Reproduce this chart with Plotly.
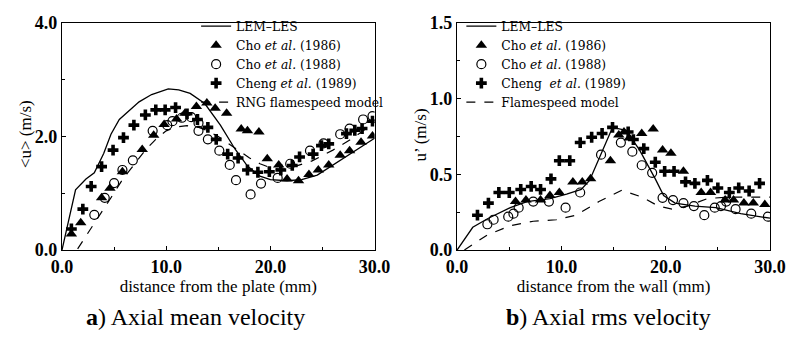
import plotly.graph_objects as go

# ---------------- (a) axial mean velocity ----------------
lem_a_x = [0, 1.3, 2.3, 3.1, 4.0, 4.7, 5.5, 6.5, 7.4, 8.6, 10.2, 11.2, 12.3, 13.7, 15.2, 16.6, 17.8, 19.0, 20.0, 21.6, 23.0, 24.5, 26.0, 27.5, 29.0, 30.0]
lem_a_y = [0, 1.06, 1.25, 1.36, 1.70, 2.04, 2.30, 2.47, 2.61, 2.74, 2.84, 2.82, 2.76, 2.58, 2.20, 1.78, 1.48, 1.30, 1.24, 1.22, 1.24, 1.32, 1.50, 1.67, 1.85, 1.97]

rng_x = [1.5, 2.5, 3.6, 4.7, 5.8, 7.0, 8.0, 9.0, 10.0, 11.0, 12.0, 13.0, 14.0, 15.0, 16.0, 17.0, 18.0, 19.0, 20.0, 21.0, 22.0, 24.0, 26.0, 28.0, 30.0]
rng_y = [0.02, 0.30, 0.60, 0.92, 1.24, 1.52, 1.76, 1.95, 2.10, 2.17, 2.19, 2.17, 2.10, 2.00, 1.87, 1.75, 1.62, 1.52, 1.45, 1.42, 1.45, 1.57, 1.76, 1.98, 2.25]

cho86_a_x = [0.9, 1.8, 3.8, 4.6, 5.8, 7.7, 8.8, 9.8, 11.0, 11.8, 12.9, 13.9, 14.7, 15.8, 17.2, 17.8, 18.9, 19.7, 20.8, 21.6, 22.7, 23.7, 24.6, 25.6, 26.7, 27.6, 28.7, 29.8]
cho86_a_y = [0.28, 0.48, 0.92, 1.09, 1.38, 1.77, 2.02, 2.21, 2.31, 2.41, 2.53, 2.59, 2.50, 2.41, 2.13, 2.10, 2.08, 1.61, 1.50, 1.25, 1.22, 1.33, 1.41, 1.50, 1.67, 1.75, 1.90, 2.01]

cho88_a_x = [3.1, 4.1, 5.0, 5.8, 6.8, 8.7, 10.1, 10.6, 11.5, 12.4, 13.1, 13.1, 14.0, 15.1, 16.1, 16.7, 18.1, 19.1, 20.7, 21.9, 23.8, 25.1, 26.7, 27.6, 28.9, 29.8]
cho88_a_y = [0.62, 0.92, 1.18, 1.41, 1.58, 2.10, 2.20, 2.27, 2.33, 2.34, 2.24, 2.10, 1.95, 1.75, 1.50, 1.23, 0.98, 1.17, 1.27, 1.52, 1.75, 1.88, 2.04, 2.14, 2.30, 2.36]

cheng_a_x = [0.9, 2.0, 2.8, 3.8, 4.9, 5.9, 6.9, 8.0, 9.0, 9.9, 10.9, 12.0, 13.0, 14.0, 14.8, 15.9, 16.9, 17.8, 18.8, 19.9, 21.0, 22.1, 22.8, 24.1, 24.9, 25.6, 27.3, 28.1, 28.8, 29.8]
cheng_a_y = [0.37, 0.72, 1.12, 1.47, 1.76, 1.98, 2.20, 2.38, 2.47, 2.47, 2.51, 2.40, 2.30, 2.16, 1.95, 1.69, 1.62, 1.41, 1.37, 1.38, 1.41, 1.49, 1.64, 1.69, 1.84, 1.87, 2.05, 2.11, 2.14, 2.27]

# ---------------- (b) axial rms velocity ----------------
lem_b_x = [0, 1.5, 3.0, 5.1, 6.7, 8.9, 10.5, 11.9, 12.7, 13.8, 14.9, 16.2, 17.5, 19.0, 19.8, 20.9, 22.8, 24.8, 27.2, 30.0]
lem_b_y = [0, 0.15, 0.21, 0.28, 0.32, 0.34, 0.37, 0.40, 0.46, 0.63, 0.81, 0.79, 0.66, 0.47, 0.36, 0.31, 0.29, 0.28, 0.24, 0.21]

fs_x = [0.7, 2.9, 5.1, 7.3, 9.5, 11.4, 13.6, 15.8, 17.7, 19.3, 20.6, 22.1, 24.0, 26.0, 28.0, 30.0]
fs_y = [0.0, 0.10, 0.16, 0.19, 0.20, 0.23, 0.32, 0.395, 0.35, 0.29, 0.27, 0.29, 0.34, 0.35, 0.35, 0.35]

cho86_b_x = [5.6, 6.6, 8.0, 8.9, 9.8, 11.1, 12.0, 12.8, 14.7, 15.5, 16.0, 16.5, 17.7, 18.8, 19.7, 20.5, 21.7, 23.4, 24.3, 25.7, 26.5, 27.5, 28.4, 29.5]
cho86_b_y = [0.32, 0.33, 0.33, 0.36, 0.38, 0.45, 0.45, 0.47, 0.59, 0.76, 0.78, 0.74, 0.77, 0.80, 0.66, 0.64, 0.52, 0.38, 0.38, 0.33, 0.33, 0.31, 0.31, 0.30]

cho88_b_x = [2.9, 3.5, 4.9, 5.4, 5.9, 7.3, 8.8, 10.4, 11.8, 13.8, 15.7, 16.8, 17.7, 18.7, 19.7, 20.7, 21.7, 22.7, 23.7, 24.7, 25.3, 25.8, 26.7, 28.2, 29.8]
cho88_b_y = [0.17, 0.20, 0.22, 0.24, 0.28, 0.32, 0.32, 0.28, 0.38, 0.63, 0.71, 0.65, 0.56, 0.51, 0.345, 0.33, 0.31, 0.29, 0.23, 0.28, 0.29, 0.32, 0.27, 0.24, 0.22]

cheng_b_x = [1.95, 3.0, 4.0, 5.0, 6.1, 7.1, 8.0, 9.0, 9.8, 10.8, 11.8, 12.9, 13.9, 14.9, 16.4, 16.9, 17.9, 19.0, 19.9, 20.8, 21.9, 22.8, 24.0, 25.0, 26.1, 27.0, 28.0, 29.0]
cheng_b_y = [0.23, 0.31, 0.38, 0.38, 0.40, 0.42, 0.40, 0.47, 0.59, 0.59, 0.71, 0.745, 0.77, 0.81, 0.78, 0.73, 0.67, 0.58, 0.52, 0.52, 0.45, 0.44, 0.46, 0.41, 0.38, 0.41, 0.39, 0.44]

x_ticks = [0, 10, 20, 30]
x_ticklabels = ["0.0", "10.0", "20.0", "30.0"]
ya_ticks = [0, 2, 4]
ya_ticklabels = ["0.0", "2.0", "4.0"]
yb_ticks = [0, 0.5, 1.0, 1.5]
yb_ticklabels = ["0.0", "0.5", "1.0", "1.5"]

SERIF = "Liberation Serif"
LEGFONT = "DejaVu Serif"
BLACK = "black"

fig = go.Figure()

def add_set(xa, ya, legend, lem, lemname, model, modelname, modeldash,
            c86, c88, chg, chengname):
    fig.add_trace(go.Scatter(x=lem[0], y=lem[1], mode="lines", name=lemname,
                             line=dict(color=BLACK, width=1.3), xaxis=xa, yaxis=ya, legend=legend))
    fig.add_trace(go.Scatter(x=c86[0], y=c86[1], mode="markers", name="Cho <i>et al.</i> (1986)",
                             marker=dict(symbol="triangle-up", size=10, color=BLACK),
                             xaxis=xa, yaxis=ya, legend=legend))
    fig.add_trace(go.Scatter(x=c88[0], y=c88[1], mode="markers", name="Cho <i>et al.</i> (1988)",
                             marker=dict(symbol="circle-open", size=9, color=BLACK, line=dict(width=1.2)),
                             xaxis=xa, yaxis=ya, legend=legend))
    fig.add_trace(go.Scatter(x=chg[0], y=chg[1], mode="markers", name=chengname,
                             marker=dict(symbol="cross", size=9, color=BLACK),
                             xaxis=xa, yaxis=ya, legend=legend))
    fig.add_trace(go.Scatter(x=model[0], y=model[1], mode="lines", name=modelname,
                             line=dict(color=BLACK, width=1.2, dash=modeldash),
                             xaxis=xa, yaxis=ya, legend=legend))

add_set("x", "y", "legend", (lem_a_x, lem_a_y), "LEM\u2013LES", (rng_x, rng_y),
        "RNG flamespeed model", "dash", (cho86_a_x, cho86_a_y), (cho88_a_x, cho88_a_y),
        (cheng_a_x, cheng_a_y), "Cheng <i>et al.</i> (1989)")
add_set("x2", "y2", "legend2", (lem_b_x, lem_b_y), "LEM\u2013LES", (fs_x, fs_y),
        "Flamespeed model", "dash", (cho86_b_x, cho86_b_y), (cho88_b_x, cho88_b_y),
        (cheng_b_x, cheng_b_y), "Cheng  <i>et al.</i> (1989)")

tickfont = dict(family=SERIF, size=18, color=BLACK, weight="bold")
titlefont = dict(family=SERIF, size=17, color=BLACK)
axis_common = dict(showline=True, linecolor=BLACK, linewidth=1.3, mirror=True,
                   ticks="inside", ticklen=4, tickcolor=BLACK, showgrid=False,
                   zeroline=False, tickfont=tickfont)

W, H = 798, 339
ml, mr, mt, mb = 62, 18, 18, 89
pw = W - ml - mr
ph = H - mt - mb
fig.update_layout(
    width=W, height=H, margin=dict(l=ml, r=mr, t=mt, b=mb),
    paper_bgcolor="white", plot_bgcolor="white",
    font=dict(family=SERIF, color=BLACK),
    xaxis=dict(domain=[0, 317 / pw], range=[0, 30], tickvals=x_ticks, ticktext=x_ticklabels,
               minor=dict(ticks="inside", ticklen=3, dtick=5, tickcolor=BLACK),
               title=dict(text="distance from the plate (mm)", font=titlefont, standoff=0),
               **axis_common),
    yaxis=dict(range=[0, 4], tickvals=ya_ticks, ticktext=ya_ticklabels,
               minor=dict(ticks="inside", ticklen=3, dtick=1, tickcolor=BLACK),
               **axis_common),
    xaxis2=dict(domain=[(462.7 - ml) / pw, 1], range=[0, 30], tickvals=x_ticks, ticktext=x_ticklabels,
                minor=dict(ticks="inside", ticklen=3, dtick=5, tickcolor=BLACK),
                title=dict(text="distance from the wall (mm)", font=titlefont, standoff=0),
                anchor="y2", **axis_common),
    yaxis2=dict(range=[0, 1.5], tickvals=yb_ticks, ticktext=yb_ticklabels,
                minor=dict(ticks="inside", ticklen=3, dtick=0.25, tickcolor=BLACK),
                anchor="x2", **axis_common),
    legend=dict(x=(198 - ml) / pw, y=1.05, xanchor="left", yanchor="top",
                bgcolor="rgba(0,0,0,0)", font=dict(family=LEGFONT, size=12.3, color=BLACK),
                tracegroupgap=0, itemwidth=30),
    legend2=dict(x=(467 - ml) / pw, y=1.05, xanchor="left", yanchor="top",
                 bgcolor="rgba(0,0,0,0)", font=dict(family=LEGFONT, size=12.3, color=BLACK),
                 tracegroupgap=0, itemwidth=30),
    showlegend=True,
)

# vertical axis titles
ytitle_y = 1 - (132 - mt) / ph
fig.add_annotation(text="&lt;u&gt; (m/s)", xref="paper", yref="paper",
                   x=(25 - ml) / pw, y=ytitle_y, xanchor="center", yanchor="middle",
                   textangle=-90, showarrow=False, font=titlefont)
fig.add_annotation(text="u\u2019 (m/s)", xref="paper", yref="paper",
                   x=(426 - ml) / pw, y=ytitle_y, xanchor="center", yanchor="middle",
                   textangle=-90, showarrow=False, font=titlefont)

cap_y = 1 - (318 - mt) / ph
fig.add_annotation(text="<b>a</b>) Axial mean velocity", xref="paper", yref="paper",
                   x=(197 - ml) / pw, y=cap_y, xanchor="center", yanchor="middle",
                   showarrow=False, font=dict(family=SERIF, size=24, color=BLACK))
fig.add_annotation(text="<b>b</b>) Axial rms velocity", xref="paper", yref="paper",
                   x=(616 - ml) / pw, y=cap_y, xanchor="center", yanchor="middle",
                   showarrow=False, font=dict(family=SERIF, size=24, color=BLACK))

fig.write_html("out.html")
